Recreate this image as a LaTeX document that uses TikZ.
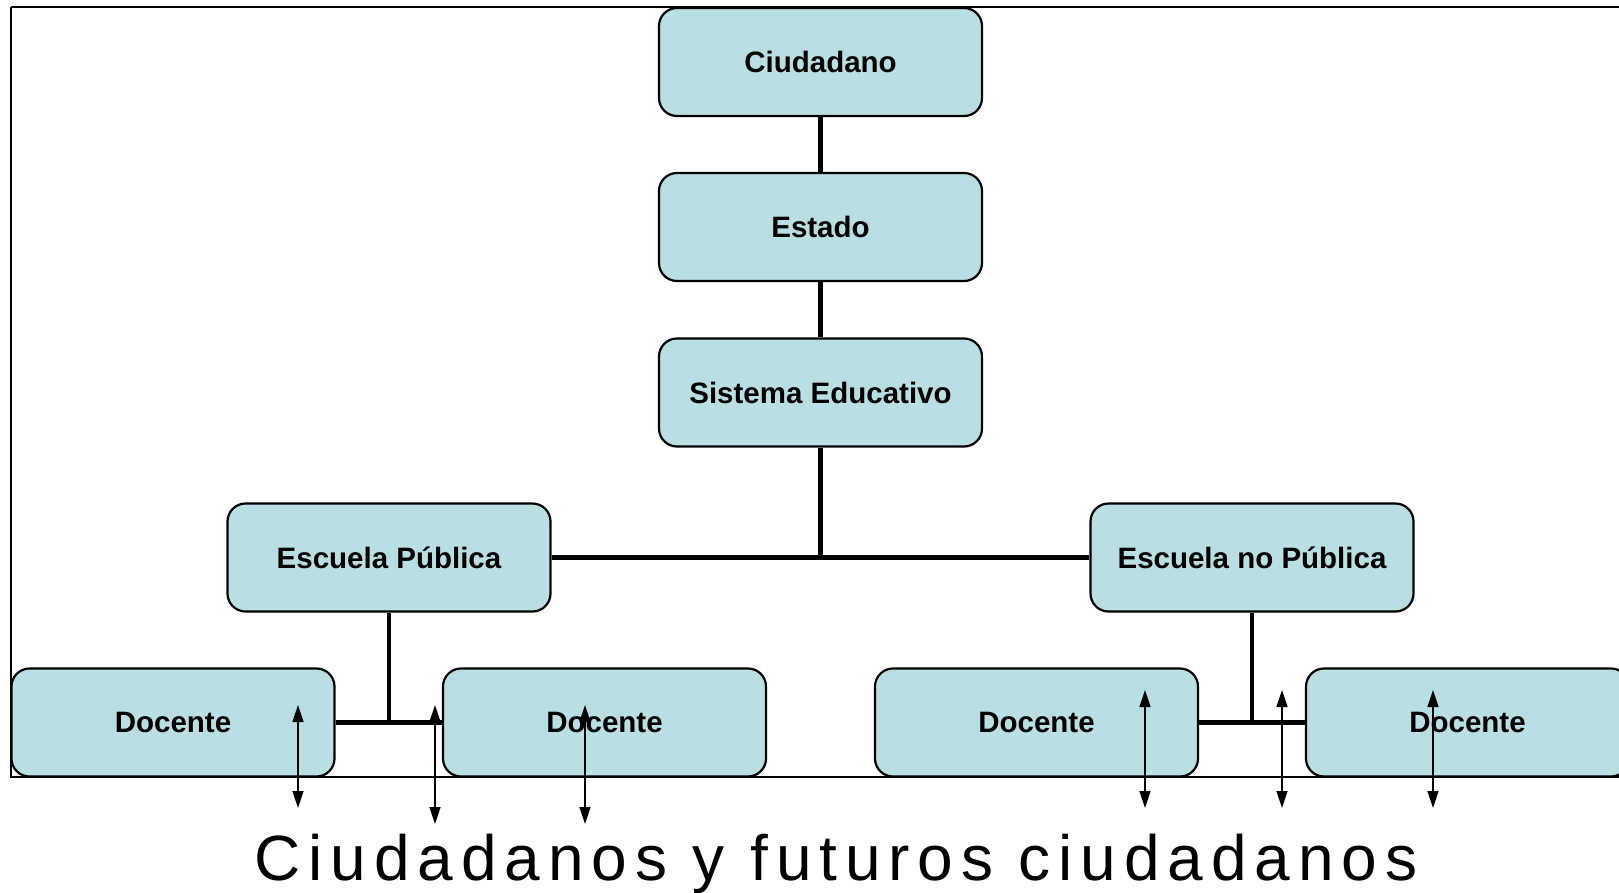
\documentclass[tikz,border=0pt]{standalone}
\usepackage{fontspec}
\setmainfont{Liberation Sans}
\usetikzlibrary{arrows.meta}
\definecolor{boxfill}{RGB}{185,223,227}
\tikzset{
  box/.style={draw=black, line width=2.2pt, rounded corners=18pt, fill=boxfill,
    minimum width=323pt, minimum height=108pt, inner sep=0pt,
    font=\fontsize{29.5}{33}\selectfont\bfseries},
  link/.style={line width=4.5pt},
  dbl/.style={line width=1.6pt, {Triangle[length=17pt,width=11pt]}-{Triangle[length=17pt,width=11pt]}},
  frame/.style={line width=2.4pt}
}
\begin{document}
\begin{tikzpicture}[x=1pt,y=-1pt]
\useasboundingbox (0,0) rectangle (1619,892);
\clip (0,0) rectangle (1619,892);
\fill[white] (0,0) rectangle (1619,892);
\draw[frame] (11,7) -- (1640,7) (11,7) -- (11,777) -- (1640,777);
\node[box] (ciu) at (820.5,62) {Ciudadano};
\node[box] (est) at (820.5,227) {Estado};
\node[box] (sis) at (820.5,392.5) {Sistema Educativo};
\node[box] (ep) at (389,557.5) {Escuela Pública};
\node[box] (enp) at (1252,557.5) {Escuela no Pública};
\node[box] (d1) at (173,722.5) {Docente};
\node[box] (d2) at (604.5,722.5) {Docente};
\node[box] (d3) at (1036.5,722.5) {Docente};
\node[box] (d4) at (1467.5,722.5) {Docente};
\draw[link] (ciu.south) -- (est.north);
\draw[link] (est.south) -- (sis.north);
\draw[link] (sis.south) -- (sis.south |- ep.east);
\draw[link] (ep.east) -- (enp.west);
\draw[link] (ep.south) -- (ep.south |- d1.east);
\draw[link] (d1.east) -- (d2.west);
\draw[link] (enp.south) -- (enp.south |- d3.east);
\draw[link] (d3.east) -- (d4.west);
\coordinate (a1t) at (298,705); \coordinate (a1b) at (298,808);
\coordinate (a2t) at (435,705); \coordinate (a2b) at (435,824);
\coordinate (a3t) at (585,705); \coordinate (a3b) at (585,824);
\coordinate (a4t) at (1145,690); \coordinate (a4b) at (1145,808);
\coordinate (a5t) at (1282,690); \coordinate (a5b) at (1282,808);
\coordinate (a6t) at (1433,690); \coordinate (a6b) at (1433,808);
\foreach \i in {1,...,6} { \draw[dbl] (a\i t) -- (a\i b); }
\node[anchor=base, inner sep=0pt, font=\fontsize{64}{70}\selectfont\addfontfeature{LetterSpace=12.3}] (bot) at (836,880) {Ciudadanos y futuros ciudadanos};
\end{tikzpicture}
\end{document}
